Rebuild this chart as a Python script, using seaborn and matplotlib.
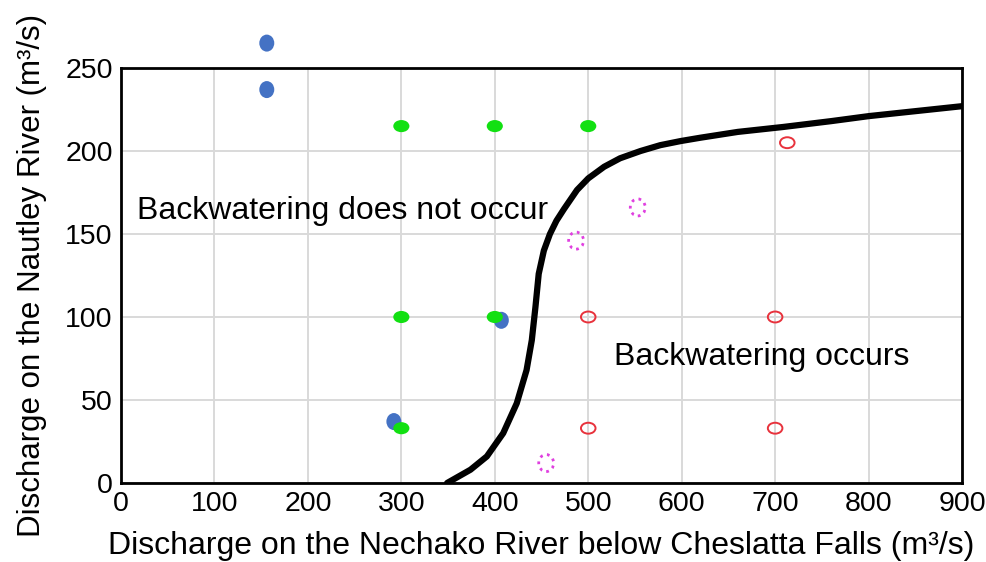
import matplotlib
matplotlib.use("Agg")
import matplotlib.pyplot as plt
import seaborn as sns
from matplotlib.path import Path
from matplotlib.transforms import Affine2D

# boundary curve
curve_x = [349, 374, 391.5, 409, 423.5, 434, 439.6, 443.5, 447, 452.5, 459, 466, 474,
           488, 500, 517, 534, 556, 577, 599, 620, 660, 709, 760, 800, 850, 900]
curve_y = [0, 8, 16, 30, 48, 68, 86, 106, 126, 140, 150, 158, 165,
           176.5, 183.5, 190.5, 195.6, 200, 203.5, 206, 208, 211.5, 214.5, 218, 221, 224, 227]

# observations
blue_x = [156, 156, 407, 292]
blue_y = [265, 237, 98, 37]
green_x = [300, 400, 500, 300, 400, 300]
green_y = [215, 215, 215, 100, 100, 33]
red_x = [713, 500, 700, 500, 700]
red_y = [205, 100, 100, 33, 33]
mag_x = [553, 487, 455]
mag_y = [166, 146, 12]

x_ticks = [0, 100, 200, 300, 400, 500, 600, 700, 800, 900]
y_ticks = [0, 50, 100, 150, 200, 250]

sns.set_style("white")
plt.rcParams['font.family'] = ['Liberation Sans', 'DejaVu Sans']
plt.rcParams['text.color'] = 'black'
plt.rcParams['axes.labelcolor'] = 'black'
plt.rcParams['xtick.color'] = 'black'
plt.rcParams['ytick.color'] = 'black'

wide = Path.unit_circle().transformed(Affine2D().scale(1.0, 0.75))
tall = Path.unit_circle().transformed(Affine2D().scale(0.88, 1.0))

fig = plt.figure(figsize=(9.87, 5.62), dpi=100)
ax = fig.add_axes([0.1226, 0.1406, 0.8521, 0.7384])

sns.lineplot(x=curve_x, y=curve_y, sort=False, estimator=None, color='black',
             linewidth=4.5, ax=ax, zorder=3)
ax.lines[-1].set_solid_joinstyle('round')
ax.lines[-1].set_solid_capstyle('round')

sns.scatterplot(x=blue_x, y=blue_y, marker=tall, s=150, color='#4472C4',
                edgecolor='none', ax=ax, zorder=4, clip_on=False)
sns.scatterplot(x=green_x, y=green_y, marker=wide, s=135, color='#12E012',
                edgecolor='none', ax=ax, zorder=5)
sns.scatterplot(x=red_x, y=red_y, marker=wide, s=110, facecolor='none',
                edgecolor='#E8323C', linewidth=1.4, ax=ax, zorder=5)
sns.scatterplot(x=mag_x, y=mag_y, marker=tall, s=150, facecolor='none',
                edgecolor='#E040E0', linewidth=2, linestyle=(0, (1, 1.6)),
                ax=ax, zorder=5)

ax.text(17, 164, 'Backwatering does not occur', fontsize=23, va='center', ha='left')
ax.text(528, 76, 'Backwatering occurs', fontsize=23, va='center', ha='left')

ax.set_xlim(0, 900)
ax.set_ylim(0, 250)
ax.set_xticks(x_ticks)
ax.set_yticks(y_ticks)
ax.tick_params(labelsize=20.5, length=0, pad=6)
ax.grid(True, color='#d9d9d9', linewidth=1.4)
ax.set_axisbelow(True)
for s in ax.spines.values():
    s.set_color('black')
    s.set_linewidth(2)

ax.set_xlabel('Discharge on the Nechako River below Cheslatta Falls (m³/s)', fontsize=23, labelpad=10)
ax.set_ylabel('Discharge on the Nautley River (m³/s)', fontsize=22.5, labelpad=13)

fig.savefig('out.png', dpi=100)
